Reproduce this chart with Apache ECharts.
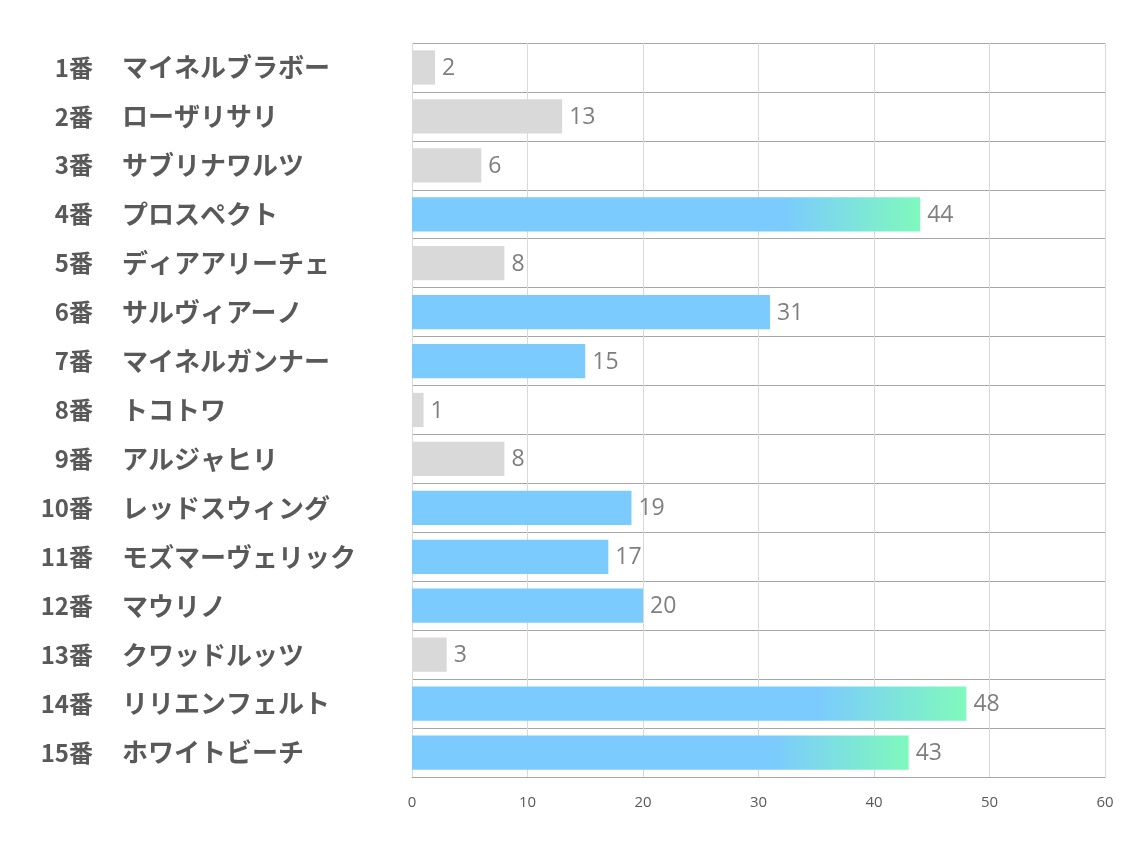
<!DOCTYPE html>
<html>
<head>
<meta charset="utf-8">
<script src="https://cdn.jsdelivr.net/npm/echarts@6/dist/echarts.min.js"></script>
<style>html,body{margin:0;padding:0;background:#fff;}#c{width:1134px;height:850px;}</style>
</head>
<body>
<div id="c"></div>
<script>
const numbers = ['1番','2番','3番','4番','5番','6番','7番','8番','9番','10番','11番','12番','13番','14番','15番'];
const names = ['マイネルブラボー','ローザリサリ','サブリナワルツ','プロスペクト','ディアアリーチェ','サルヴィアーノ','マイネルガンナー','トコトワ','アルジャヒリ','レッドスウィング','モズマーヴェリック','マウリノ','クワッドルッツ','リリエンフェルト','ホワイトビーチ'];
const values = [2, 13, 6, 44, 8, 31, 15, 1, 8, 19, 17, 20, 3, 48, 43];
// colour group per horse: 0 = gray, 1 = blue, 2 = blue→green gradient
const groups = [0, 0, 0, 2, 0, 1, 1, 0, 0, 1, 1, 1, 0, 2, 2];
const xTicks = [0, 10, 20, 30, 40, 50, 60];

const GRAY = '#d9d9d9', BLUE = '#7bcbfe', GREEN = '#7ff9bd';
function colorFor(g) {
  if (g === 0) return GRAY;
  if (g === 1) return BLUE;
  return new echarts.graphic.LinearGradient(0, 0, 1, 0, [
    {offset: 0, color: BLUE}, {offset: 0.73, color: BLUE}, {offset: 1, color: GREEN}
  ]);
}

const chart = echarts.init(document.getElementById('c'));
chart.setOption({
  animation: false,
  backgroundColor: '#fff',
  grid: {left: 412, right: 29, top: 43, bottom: 73, containLabel: false},
  xAxis: {
    type: 'value', min: xTicks[0], max: xTicks[xTicks.length - 1], interval: 10,
    axisLine: {show: true, lineStyle: {color: '#a6a6a6', width: 1}},
    axisTick: {show: false},
    splitLine: {show: true, lineStyle: {color: '#d9d9d9', width: 1}},
    axisLabel: {color: '#595959', fontSize: 15, margin: 18, fontFamily: 'Open Sans'}
  },
  yAxis: [{
    type: 'category', inverse: true, position: 'left',
    data: numbers,
    axisLine: {show: false},
    axisTick: {show: false},
    splitLine: {show: true, lineStyle: {color: '#a6a6a6', width: 1}},
    axisLabel: {
      align: 'right', margin: 319,
      fontSize: 24, fontWeight: 'bold', color: '#595959', fontFamily: 'Noto Sans CJK JP'
    }
  }, {
    type: 'category', inverse: true, position: 'left', offset: 0,
    data: names,
    axisLine: {show: false},
    axisTick: {show: false},
    splitLine: {show: false},
    axisLabel: {
      align: 'left', margin: 290,
      fontSize: 26, fontWeight: 'bold', color: '#595959', fontFamily: 'Noto Sans CJK JP'
    }
  }],
  series: [{
    type: 'bar',
    yAxisIndex: 0,
    barWidth: '70%',
    data: values.map((v, i) => ({value: v, itemStyle: {color: colorFor(groups[i])}})),
    label: {
      show: true, position: 'right', distance: 7, offset: [0, 1],
      color: '#7f7f7f', fontSize: 23, fontFamily: 'Open Sans'
    }
  }]
});
</script>
</body>
</html>
